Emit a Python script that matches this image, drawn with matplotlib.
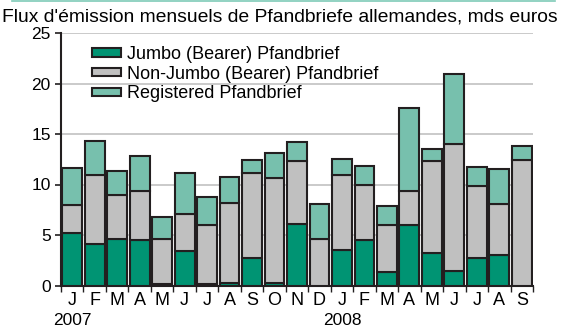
import numpy as np
import matplotlib
matplotlib.use("Agg")
import matplotlib.pyplot as plt
from matplotlib.patches import Patch
from matplotlib.lines import Line2D
import matplotlib.transforms as mtransforms

plt.rcParams['font.family'] = ['Liberation Sans', 'DejaVu Sans']

months = ["J", "F", "M", "A", "M", "J", "J", "A", "S", "O", "N", "D",
          "J", "F", "M", "A", "M", "J", "J", "A", "S"]
years = {0: "2007", 12: "2008"}

# cumulative levels (mds euros)
jumbo = [5.2, 4.1, 4.6, 4.5, 0.1, 3.4, 0.15, 0.2, 2.7, 0.2, 6.1, 0.0,
         3.5, 4.5, 1.3, 6.0, 3.25, 1.4, 2.7, 3.0, 0.0]
top_nonjumbo = [8.0, 10.9, 9.0, 9.4, 4.6, 7.05, 6.0, 8.2, 11.1, 10.6, 12.3, 4.6,
                10.9, 9.95, 6.0, 9.4, 12.3, 14.0, 9.9, 8.1, 12.45]
total = [11.6, 14.35, 11.3, 12.8, 6.8, 11.1, 8.8, 10.75, 12.4, 13.1, 14.2, 8.05,
         12.5, 11.8, 7.9, 17.6, 13.5, 20.95, 11.7, 11.5, 13.85]

jumbo = np.array(jumbo)
nonjumbo = np.array(top_nonjumbo) - jumbo
registered = np.array(total) - np.array(top_nonjumbo)

c_jumbo = "#009473"
c_nonjumbo = "#c0c0c0"
c_reg = "#77c0ad"
c_edge = "#231f20"

W, H = 565, 329
fig = plt.figure(figsize=(W / 100, H / 100), dpi=100)
ax = fig.add_axes([61 / W, 43.5 / H, 472 / W, 252.5 / H])

x = np.arange(len(months))
bw = 0.88
kw = dict(width=bw, edgecolor=c_edge, linewidth=1.5, zorder=3)
ax.bar(x, jumbo, color=c_jumbo, **kw)
ax.bar(x, nonjumbo, bottom=jumbo, color=c_nonjumbo, **kw)
ax.bar(x, registered, bottom=np.array(top_nonjumbo), color=c_reg, **kw)

ax.set_xlim(-0.5, len(months) - 0.5)
ax.set_ylim(0, 25)
ax.set_yticks(np.arange(0, 26, 5))
for y in range(5, 26, 5):
    ax.axhline(y, color="#c6c6c6", lw=1.3, zorder=1)

for s in ["top", "right"]:
    ax.spines[s].set_visible(False)
for s in ["left", "bottom"]:
    ax.spines[s].set_linewidth(1.5)
    ax.spines[s].set_color(c_edge)

ax.set_xticks(x)
ax.set_xticklabels(months)
ax.set_xticks(np.arange(-0.5, len(months), 1.0), minor=True)
ax.tick_params(axis="x", which="major", length=0, pad=4.5, labelsize=13)
ax.tick_params(axis="x", which="minor", length=4, width=1, direction="out", color=c_edge)
ax.tick_params(axis="y", length=4.3, width=1.2, pad=3, labelsize=12.5, color=c_edge)

trans = mtransforms.blended_transform_factory(ax.transData, fig.transFigure)
for i, yr in years.items():
    ax.text(i, 1 - 325 / H, yr, transform=trans, ha="center", va="baseline", fontsize=12.5)

fig.text(2 / W, 1 - 22 / H, "Flux d'émission mensuels de Pfandbriefe allemandes, mds euros",
         ha="left", va="baseline", fontsize=13.9)

# thin teal rule at the top of the figure
fig.add_artist(Line2D([12 / W, 555 / W], [1 - 0.6 / H, 1 - 0.6 / H], color="#7fcbb8",
                      lw=1.2, transform=fig.transFigure))

handles = [Patch(facecolor=c_jumbo, edgecolor=c_edge, linewidth=1.5),
           Patch(facecolor=c_nonjumbo, edgecolor=c_edge, linewidth=1.5),
           Patch(facecolor=c_reg, edgecolor=c_edge, linewidth=1.5)]
labels = ["Jumbo (Bearer) Pfandbrief", "Non-Jumbo (Bearer) Pfandbrief", "Registered Pfandbrief"]
leg = ax.legend(handles, labels, loc="upper left", bbox_to_anchor=(92 / W, 1 - 46 / H),
                bbox_transform=fig.transFigure, frameon=False, fontsize=13,
                handlelength=1.6, handleheight=0.33, handletextpad=0.33,
                labelspacing=0.15, borderpad=0, borderaxespad=0)
leg.set_zorder(5)

fig.savefig("out.png", dpi=100)
